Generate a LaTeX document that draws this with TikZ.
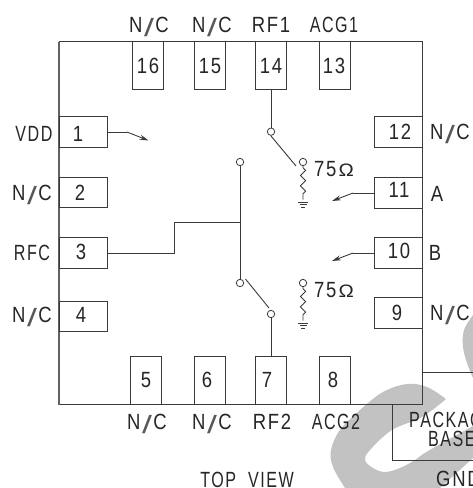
\documentclass[tikz,border=0pt]{standalone}
\usepackage{graphicx}
\usepackage{fontspec}
\setmainfont{Liberation Sans}[FakeStretch=0.84,LetterSpace=8]
\usetikzlibrary{arrows.meta}
\definecolor{ink}{HTML}{3A3A3A}
\definecolor{wmgray}{HTML}{C2C2C2}
\newcommand\lab[4]{\node[lbl] (#1) at (#2,#3+7.8) {#4};}
\newcommand\nc{N\kern1.5pt\raisebox{-3.5pt}{\textcolor{black!65}{\scalebox{1.7}[1]{\fontsize{25}{25}\selectfont/}}}\kern1.5pt C}
\newcommand\ohm{\kern2pt\scalebox{1.35}[1]{\fontsize{18}{18}\selectfont Ω}}
\newcommand\narrow[1]{\scalebox{0.87}[1]{#1}}
\newcommand\resist[2]{%
  \draw[wire] (#1,#2) -- ++(0,2) -- ++(2.6,2.6) -- ++(-5.2,5.2) -- ++(5.2,5.2) -- ++(-5.2,5.2) -- ++(5.2,5.2) -- ++(-2.6,2.6) -- ++(0,6);
  \draw[wire] (#1-5,#2+36.5) -- ++(10,0);
  \draw[wire] (#1-3.5,#2+39) -- ++(7,0);
  \draw[wire] (#1-2,#2+41.5) -- ++(4,0);}
\tikzset{
  wire/.style={draw=ink,line width=0.9pt},
  pinv/.style={draw=ink,line width=0.9pt,fill=none,minimum width=30.5pt,minimum height=48pt,inner sep=0pt},
  pinh/.style={draw=ink,line width=0.9pt,fill=none,minimum width=48pt,minimum height=30.5pt,inner sep=0pt},
  lbl/.style={anchor=base,inner sep=0pt,text=black!85,font=\fontsize{22}{22}\selectfont},
  swc/.style={circle,draw=ink,line width=0.8pt,minimum size=7.4pt,inner sep=0pt},
  arrowline/.style={-{Stealth[length=9pt,width=5pt]},draw=ink,line width=0.9pt}
}
\begin{document}
\begin{tikzpicture}[x=1pt,y=-1pt]
\useasboundingbox (0,0) rectangle (473,488);
\clip (0,0) rectangle (473,488);
% watermark
\fill[wmgray] plot[smooth,tension=0.6] coordinates {(345,488) (333,467) (331,450) (340,430) (360,410) (383,392) (407,384) (427,387) (446,399)}
  -- plot[smooth,tension=0.6] coordinates {(446,399) (422,417) (392,430) (370,450) (365,460) (373,468) (385,472) (400,468) (415,460) (428,451) (473,426)}
  -- (473,458) -- (440,488) -- cycle;
\fill[wmgray] plot[smooth,tension=0.6] coordinates {(473,315) (464,330) (463,347) (467,363) (473,378)} -- cycle;
% package
\coordinate (bodyTL) at (59,41.5);
\coordinate (bodyBR) at (422,404.5);
\draw[wire] (bodyBR) rectangle (bodyTL);
\draw[wire,draw=ink!80,line width=1.3pt] (59,41.5) -- (59,404.5);
\draw[wire] (422,372.7) -- (473,372.7);
\draw[wire] (392.7,404.5) -- (392.7,460.7) -- (473,460.7);
% pins
\node[pinv] (p16) at (148,65) {};
\node[pinv] (p15) at (210,65) {};
\node[pinv] (p14) at (271,65) {};
\node[pinv] (p13) at (335,65) {};
\node[pinh] (p1) at (83,132) {};
\node[pinh] (p2) at (83,192.5) {};
\node[pinh] (p3) at (83,253) {};
\node[pinh] (p4) at (83,316.5) {};
\node[pinh] (p12) at (398,132) {};
\node[pinh] (p11) at (398,193) {};
\node[pinh] (p10) at (398,253) {};
\node[pinh] (p9) at (398,313) {};
\node[pinv] (p5) at (146,380.5) {};
\node[pinv] (p6) at (210,380.5) {};
\node[pinv] (p7) at (271,380.5) {};
\node[pinv] (p8) at (335,380.5) {};
% switch contacts
\node[swc] (c1) at (271,131.7) {};
\node[swc] (c2) at (303,162) {};
\node[swc] (c3) at (240,162) {};
\node[swc] (c4) at (240,283) {};
\node[swc] (c5) at (271,314) {};
\node[swc] (c6) at (303,283) {};
\coordinate (b1a) at (271,136);
\coordinate (b1b) at (296,166);
\coordinate (b2a) at (245.5,279);
\coordinate (b2b) at (269,308);
\coordinate (jog1) at (174,253);
\coordinate (jog2) at (174,222.5);
\coordinate (jog3) at (240,222.5);
\draw[wire] (p14.south) -- (c1);
\draw[wire] (b1a) -- (b1b);
\draw[wire] (c3) -- (c4);
\draw[wire] (p3.east) -- (jog1) -- (jog2) -- (jog3);
\draw[wire] (b2a) -- (b2b);
\draw[wire] (c5) -- (p7.north);
\resist{303}{165.7}
\resist{303}{286.7}
% control arrows
\coordinate (a1) at (127,132);
\coordinate (a1e) at (148.5,140.5);
\coordinate (a11) at (353,193);
\coordinate (a11e) at (332,201);
\coordinate (a10) at (353,253);
\coordinate (a10e) at (332,261);
\draw[wire] (p1.east) -- (a1);
\draw[arrowline] (a1) -- (a1e);
\draw[wire] (p11.west) -- (a11);
\draw[arrowline] (a11) -- (a11e);
\draw[wire] (p10.west) -- (a10);
\draw[arrowline] (a10) -- (a10e);
% pin numbers
\lab{n16}{148}{66}{16}
\lab{n15}{210}{66}{15}
\lab{n14}{271}{66}{14}
\lab{n13}{334}{66}{13}
\lab{n1}{78}{134}{1}
\lab{n2}{80}{193}{2}
\lab{n3}{81}{252}{3}
\lab{n4}{81}{315}{4}
\lab{n12}{400}{132}{12}
\lab{n11}{399}{190}{11}
\lab{n10}{399}{251}{10}
\lab{n9}{397}{313}{9}
\lab{n5}{146}{380}{5}
\lab{n6}{207}{380}{6}
\lab{n7}{267}{380}{7}
\lab{n8}{333}{380}{8}
% pin names
\lab{t16}{149}{25}{\nc}
\lab{t15}{212}{25}{\nc}
\lab{t14}{271}{25}{RF1}
\lab{t13}{334}{25}{\narrow{ACG1}}
\lab{t1}{34}{134}{\narrow{VDD}}
\lab{t2}{32}{193}{\nc}
\lab{t3}{32}{253}{\narrow{RFC}}
\lab{t4}{32}{315}{\nc}
\lab{t12}{450}{132}{\nc}
\lab{t11}{437}{194}{A}
\lab{t10}{435}{253}{B}
\lab{t9}{450}{313}{\nc}
\lab{t5}{147}{422}{\nc}
\lab{t6}{212}{422}{\nc}
\lab{t7}{272}{422}{RF2}
\lab{t8}{336}{422}{\narrow{ACG2}}
\lab{r1}{334}{169}{75\ohm}
\lab{r2}{334}{290}{75\ohm}
\lab{view}{247}{480}{\narrow{TOP\ \ VIEW}}
\node[lbl,anchor=base west] (pk) at (409,427.5) {\narrow{PACKAGE}};
\node[lbl,anchor=base west] (bs) at (428,446.5) {\narrow{BASE}};
\node[lbl,anchor=base west] (gn) at (436,486) {GND};
\end{tikzpicture}
\end{document}
